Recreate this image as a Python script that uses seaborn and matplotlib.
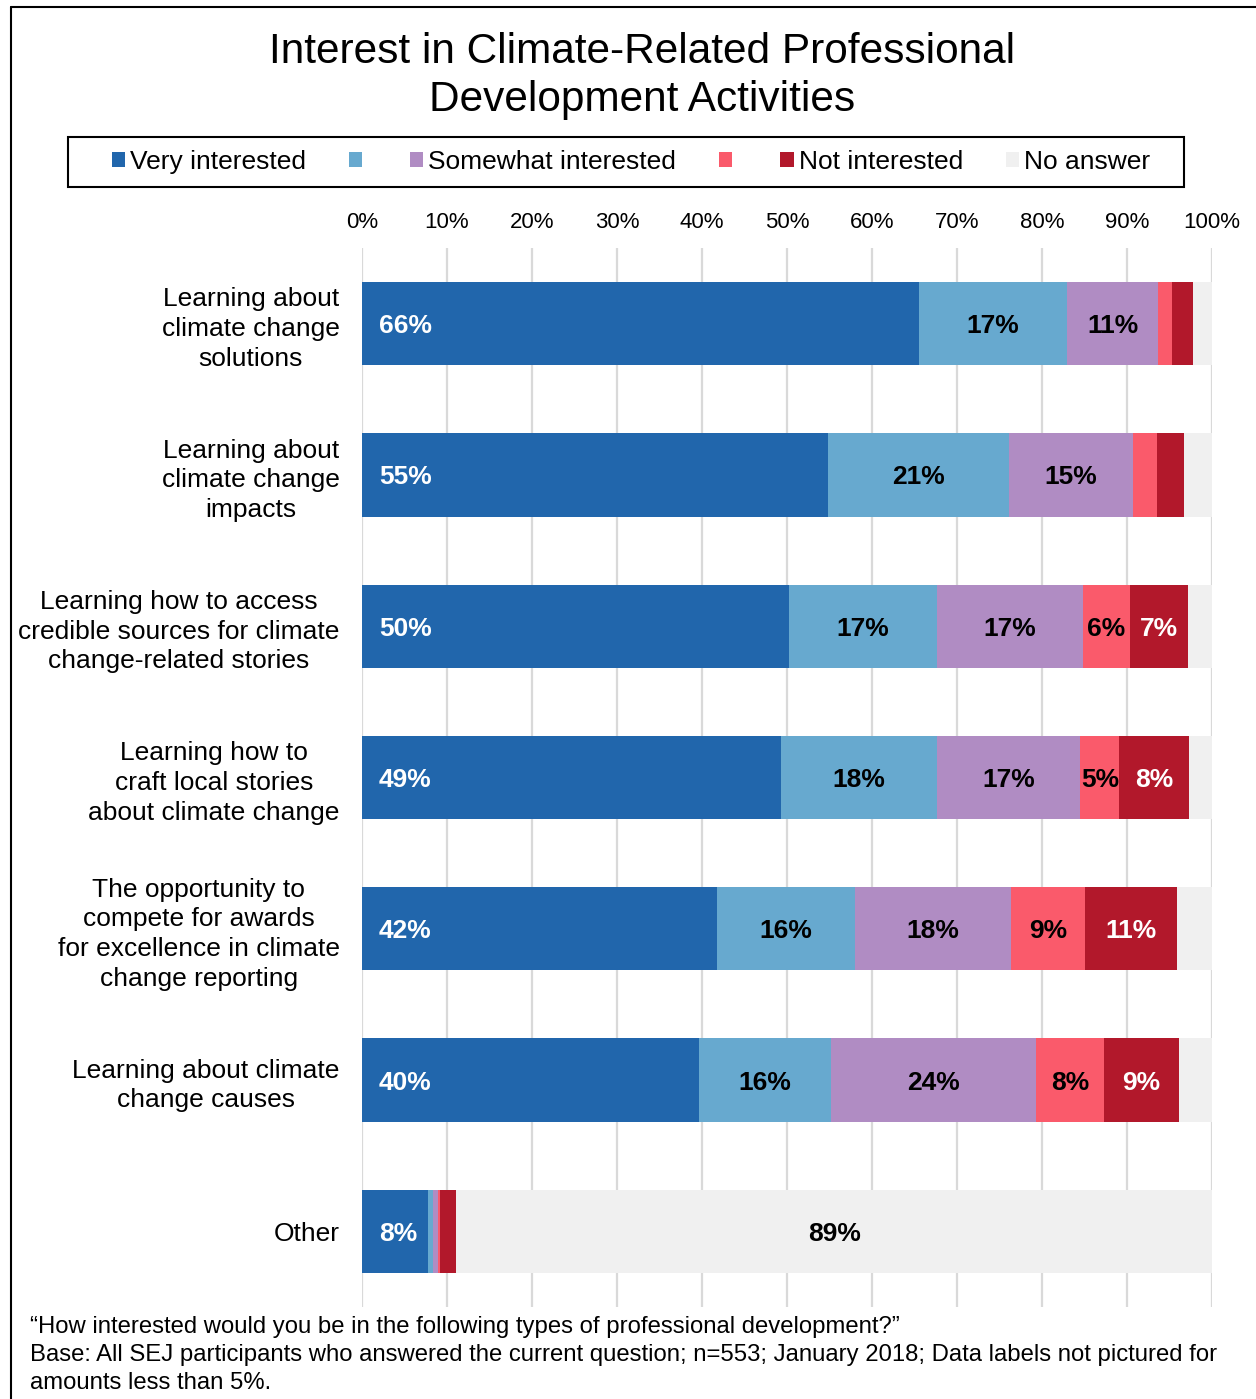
import numpy as np
import matplotlib
matplotlib.use("Agg")
import matplotlib.pyplot as plt
from matplotlib.patches import Patch, Rectangle
from matplotlib.lines import Line2D
import seaborn as sns

sns.set_theme(style="white")
plt.rcParams['font.family'] = ['Liberation Sans', 'DejaVu Sans']
plt.rcParams['text.color'] = 'black'
plt.rcParams['xtick.color'] = 'black'
plt.rcParams['ytick.color'] = 'black'

# data (percent of respondents)
categories = [
    "Learning about\nclimate change\nsolutions",
    "Learning about\nclimate change\nimpacts",
    "Learning how to access\ncredible sources for climate\nchange-related stories",
    "Learning how to\ncraft local stories\nabout climate change",
    "The opportunity to\ncompete for awards\nfor excellence in climate\nchange reporting",
    "Learning about climate\nchange causes",
    "Other",
]
very = [65.5, 54.8, 50.2, 49.3, 41.8, 39.6, 7.8]
light = [17.4, 21.3, 17.4, 18.4, 16.2, 15.6, 0.6]
somewhat = [10.8, 14.6, 17.2, 16.8, 18.4, 24.1, 0.5]
pink = [1.6, 2.8, 5.6, 4.6, 8.7, 8.0, 0.3]
not_int = [2.5, 3.2, 6.8, 8.2, 10.8, 8.8, 1.9]
no_answer = [100 - a - b - c - d - e for a, b, c, d, e in zip(very, light, somewhat, pink, not_int)]

legend_labels = ["Very interested", "", "Somewhat interested", "", "Not interested", "No answer"]
colors = ["#2166AC", "#67A9CF", "#B08CC3", "#FA5A6B", "#B2182B", "#F0F0F0"]
text_colors = ["white", "black", "black", "black", "white", "black"]

series = [very, light, somewhat, pink, not_int, no_answer]
cum = np.cumsum(np.array(series), axis=0)

W, H = 1256, 1399
fig = plt.figure(figsize=(W / 100, H / 100), dpi=100)
ax = fig.add_axes([362 / W, 1 - 1307 / H, 850 / W, 1059 / H])

# stacked bars: draw cumulative totals from the back
for k in range(len(series) - 1, -1, -1):
    sns.barplot(x=cum[k], y=categories, color=colors[k], orient="h", width=0.55,
                saturation=1, linewidth=0, ax=ax, zorder=2)

# segment labels
for k, vals in enumerate(series):
    for i, v in enumerate(vals):
        r = int(round(v))
        if r < 5:
            continue
        if k == 0:
            ax.text(2, i, f"{r}%", ha="left", va="center_baseline", fontsize=19,
                    fontweight="bold", color=text_colors[k], zorder=3)
        else:
            ax.text(cum[k][i] - v / 2, i, f"{r}%", ha="center", va="center_baseline",
                    fontsize=19, fontweight="bold", color=text_colors[k], zorder=3)

ax.set_xlim(0, 100)
ax.set_ylim(6.5, -0.5)
ax.xaxis.tick_top()
ax.set_xticks(range(0, 101, 10))
ax.set_xticklabels([f"{t}%" for t in range(0, 101, 10)], fontsize=16)
ax.tick_params(axis="x", length=0, pad=11)
ax.tick_params(axis="y", length=0, pad=16, labelsize=19)
for lab in ax.get_yticklabels():
    lab.set_multialignment("center")
    lab.set_linespacing(1.3)
ax.grid(axis="x", color="#D9D9D9", linewidth=1.6, zorder=0)
ax.set_axisbelow(True)
for s in ax.spines.values():
    s.set_visible(False)
ax.set_xlabel("")
ax.set_ylabel("")

# title
fig.text(642 / W, 1 - 76 / H, "Interest in Climate-Related Professional\nDevelopment Activities",
         ha="center", va="center", fontsize=30.5, linespacing=1.27)

# legend with box
handles = [Patch(facecolor=c, edgecolor="none") for c in colors]
fig.legend(handles, legend_labels, loc="center", bbox_to_anchor=(631 / W, 1 - 162 / H),
           ncol=6, frameon=False, fontsize=19, handlelength=0.5, handleheight=0.5,
           handletextpad=0.2, columnspacing=1.62)
fig.add_artist(Rectangle((68 / W, 1 - 187 / H), (1184 - 68) / W, 50 / H,
                         transform=fig.transFigure, fill=False, edgecolor="black", lw=1.5))

# outer frame (left and top)
fig.add_artist(Line2D([11 / W, 11 / W], [0, 1 - 7 / H], color="black", lw=1.5))
fig.add_artist(Line2D([11 / W, 1], [1 - 7 / H, 1 - 7 / H], color="black", lw=1.5))

# footnote
notes = [
    "\u201cHow interested would you be in the following types of professional development?\u201d",
    "Base: All SEJ participants who answered the current question; n=553; January 2018; Data labels not pictured for",
    "amounts less than 5%.",
]
for j, line in enumerate(notes):
    fig.text(30 / W, 1 - (1327 + 28 * j) / H, line, ha="left", va="center", fontsize=17.2)

fig.savefig("out.png", dpi=100)
